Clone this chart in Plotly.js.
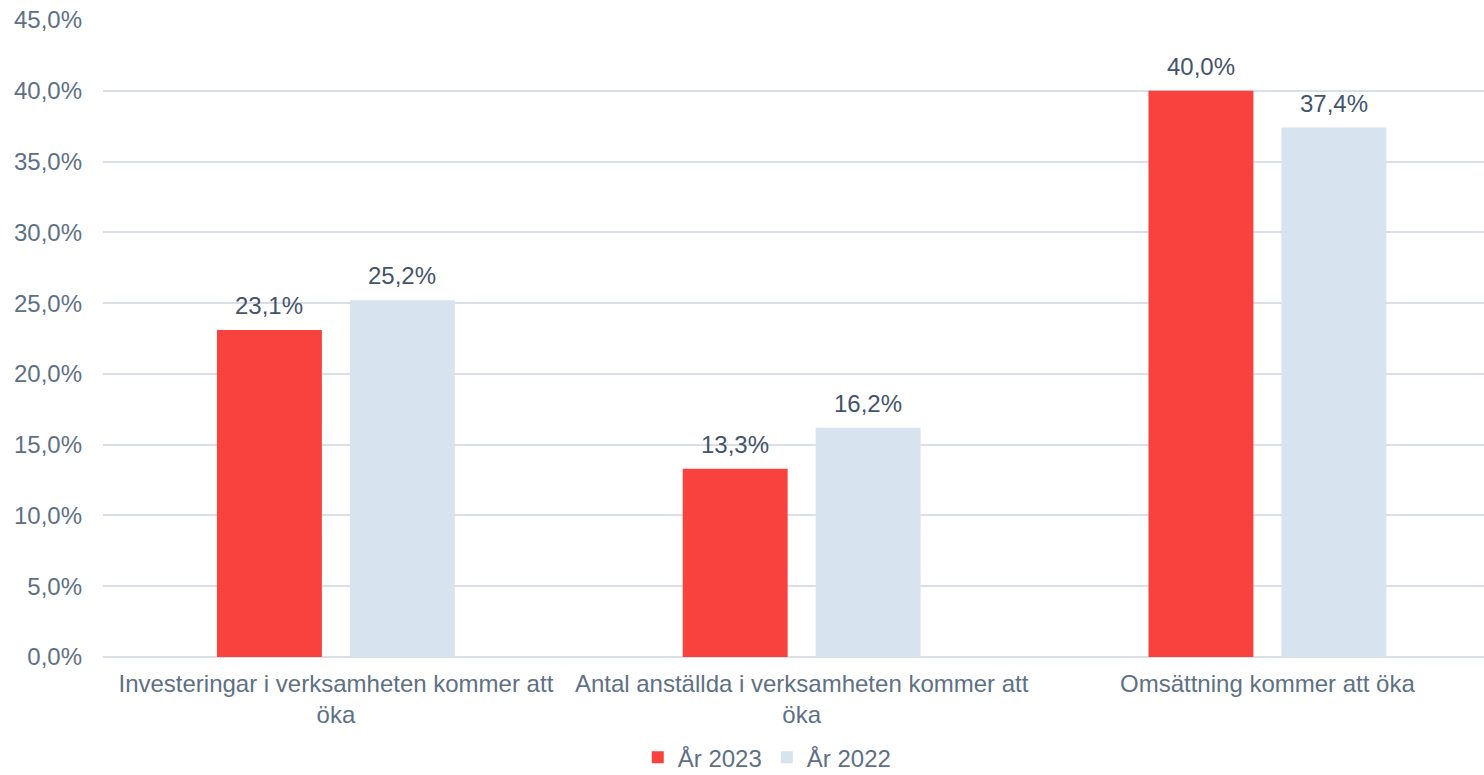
<!DOCTYPE html>
<html>
<head>
<meta charset="utf-8">
<script src="https://cdn.plot.ly/plotly-3.0.1.min.js"></script>
<style>
html,body{margin:0;padding:0;background:#fff;}
#chart{width:1484px;height:775px;}
</style>
</head>
<body>
<div id="chart"></div>
<script>
const categories = [
  "Investeringar i verksamheten kommer att<br>öka",
  "Antal anställda i verksamheten kommer att<br>öka",
  "Omsättning kommer att öka"
];
const seriesNames = ["År 2023", "År 2022"];
const values2023 = [0.231, 0.133, 0.400];
const values2022 = [0.252, 0.162, 0.374];
const yTicks = [0, 0.05, 0.10, 0.15, 0.20, 0.25, 0.30, 0.35, 0.40, 0.45];

const colors = ["#F9423D", "#D7E3EF"];
const axisColor = "#5E7085";
const labelColor = "#44546A";
const gridColor = "#D9DEE7";
const fontFamily = "'Liberation Sans', Arial, sans-serif";
const fs = 24;

const fmtPct = v => (v * 100).toFixed(1).replace(".", ",") + "%";
const xIdx = categories.map((c, i) => i);

const bargap = 0.4292;
const bargroupgap = 0.2106;
const slot = (1 - bargap) / 2;

const traces = [values2023, values2022].map((vals, s) => ({
  type: "bar",
  name: seriesNames[s],
  x: xIdx,
  y: vals,
  marker: {color: colors[s]},
  hoverinfo: "skip"
}));

const annotations = [];
[values2023, values2022].forEach((vals, s) => {
  const off = (s - 0.5) * slot;
  vals.forEach((v, i) => {
    annotations.push({
      x: i + off, y: v, xref: "x", yref: "y",
      text: fmtPct(v), showarrow: false,
      yanchor: "bottom", xanchor: "center", yshift: 9,
      font: {family: fontFamily, size: fs, color: labelColor}
    });
  });
});

const layout = {
  width: 1484, height: 775,
  margin: {l: 103, r: 0, t: 20, b: 118, autoexpand: false},
  paper_bgcolor: "#fff", plot_bgcolor: "#fff",
  barmode: "group", bargap: bargap, bargroupgap: bargroupgap,
  font: {family: fontFamily, size: fs, color: axisColor},
  xaxis: {
    tickmode: "array", tickvals: xIdx, ticktext: categories,
    range: [-0.5, 2.465], showgrid: false, zeroline: false,
    showline: false, ticks: "", ticklabelstandoff: 10, automargin: false,
    tickfont: {family: fontFamily, size: fs, color: axisColor},
    fixedrange: true
  },
  yaxis: {
    range: [0, 0.45], tickmode: "array", tickvals: yTicks,
    ticktext: yTicks.map(fmtPct),
    showgrid: true, gridcolor: gridColor, gridwidth: 2,
    zeroline: true, zerolinecolor: gridColor, zerolinewidth: 2,
    showline: false, ticks: "", ticklabelstandoff: 20, automargin: false,
    tickfont: {family: fontFamily, size: fs, color: axisColor},
    fixedrange: true
  },
  showlegend: true,
  legend: {
    orientation: "h", x: 0.481, xanchor: "center", y: -0.158, yanchor: "middle",
    font: {family: fontFamily, size: fs, color: axisColor},
    itemwidth: 30, bgcolor: "rgba(0,0,0,0)", borderwidth: 0
  },
  annotations: annotations
};

Plotly.newPlot("chart", traces, layout, {displayModeBar: false, staticPlot: true});
</script>
</body>
</html>
